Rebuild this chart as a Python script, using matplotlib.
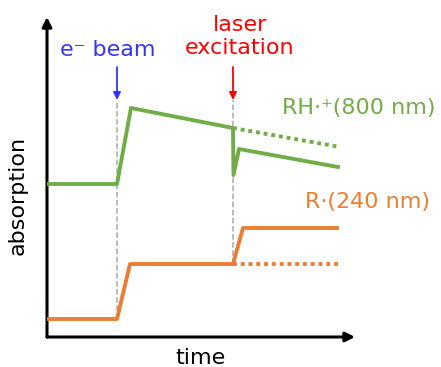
import matplotlib.pyplot as plt

# схема: поглощение во времени (условные единицы)
green_t = [1, 70, 84, 186, 186.5, 192, 291]
green_a = [153, 153, 229, 209, 162, 188, 170]
green_dot_t = [186, 293]
green_dot_a = [209, 190]

orange_t = [1, 70, 83, 186, 196, 290]
orange_a = [18, 18, 73, 73, 109, 109]
orange_dot_t = [186, 293]
orange_dot_a = [73, 73]

beam_t = 70
laser_t = 186
marker_top = 237
arrow_start = 270

GREEN = '#70AD47'
ORANGE = '#ED7D31'

fig = plt.figure(figsize=(4.41, 3.67), dpi=100)
ax = fig.add_axes([47 / 441, 30 / 367, 308 / 441, 320 / 367])
ax.set_xlim(0, 308)
ax.set_ylim(0, 320)
ax.axis('off')

# оси со стрелками
ax.annotate('', xy=(0, 1), xytext=(0, 0), xycoords='axes fraction',
            arrowprops=dict(arrowstyle='-|>', lw=2.2, color='k', mutation_scale=14,
                            shrinkA=0, shrinkB=0))
ax.annotate('', xy=(1, 0), xytext=(0, 0), xycoords='axes fraction',
            arrowprops=dict(arrowstyle='-|>', lw=2.2, color='k', mutation_scale=14,
                            shrinkA=0, shrinkB=0))

# вертикальные пунктирные линии
ax.plot([beam_t, beam_t], [orange_a[0], marker_top], color='#AAAAAA', lw=1.1, ls='--', zorder=1)
ax.plot([laser_t, laser_t], [orange_a[3], marker_top], color='#AAAAAA', lw=1.1, ls='--', zorder=1)

ax.plot(green_t, green_a, color=GREEN, lw=2.8, zorder=3)
ax.plot(green_dot_t, green_dot_a, color=GREEN, lw=2.8, ls=(0, (1, 1)), zorder=2)
ax.plot(orange_t, orange_a, color=ORANGE, lw=2.8, zorder=3)
ax.plot(orange_dot_t, orange_dot_a, color=ORANGE, lw=2.8, ls=(0, (1, 1)), zorder=2)

# стрелки возбуждения
ax.annotate('', xy=(beam_t, marker_top), xytext=(beam_t, arrow_start),
            arrowprops=dict(arrowstyle='-|>', lw=1.3, color='#3333FF', mutation_scale=11,
                            shrinkA=0, shrinkB=0))
ax.annotate('', xy=(laser_t, marker_top), xytext=(laser_t, arrow_start),
            arrowprops=dict(arrowstyle='-|>', lw=1.3, color='#FF0000', mutation_scale=11,
                            shrinkA=0, shrinkB=0))

fs = 16
ax.text(61, 287, 'e⁻ beam', color='#3333FF', fontsize=fs, ha='center', va='center')
ax.text(193, 300.5, 'laser\nexcitation', color='#FF0000', fontsize=fs, ha='center', va='center',
        linespacing=1.15)
ax.text(235, 229, 'RH·⁺(800 nm)', color=GREEN, fontsize=fs, ha='left', va='center')
ax.text(258, 135, 'R·(240 nm)', color=ORANGE, fontsize=fs, ha='left', va='center')

fig.text(18 / 441, 1 - 195 / 367, 'absorption', rotation=90, fontsize=fs, ha='center', va='center')
fig.text(200 / 441, 1 - 358 / 367, 'time', fontsize=fs, ha='center', va='center')

fig.savefig('out.png', dpi=100)
